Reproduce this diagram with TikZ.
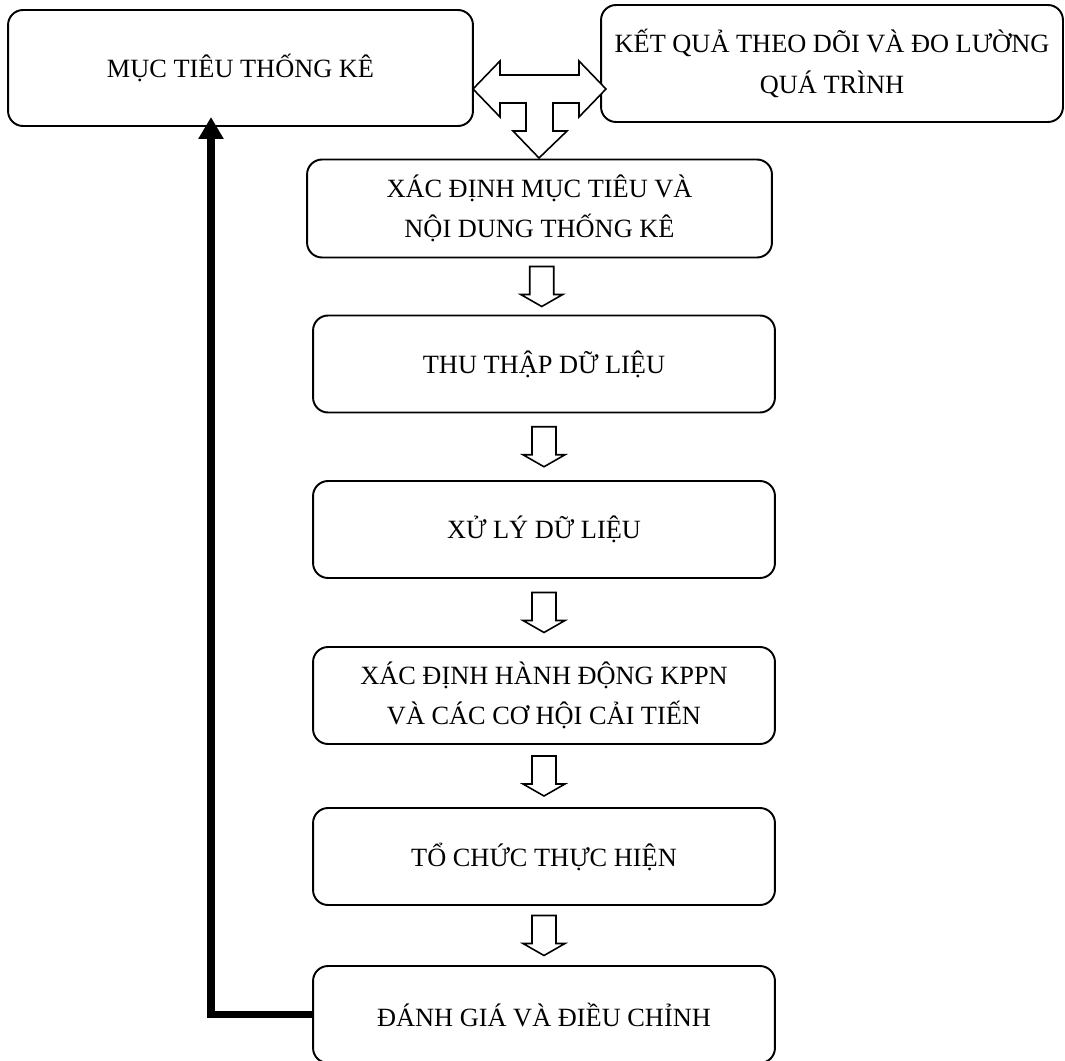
\documentclass[tikz,border=0pt]{standalone}
\usepackage{fontspec}
\setmainfont{Liberation Serif}
\usetikzlibrary{calc}
\usetikzlibrary{arrows.meta}
\tikzset{
    stepbox/.style = {rectangle, rounded corners=0.3cm, line width=1.1pt, draw=black, align=center, fill=white, font=\fontsize{15}{23}\selectfont},
    widebox/.style = {stepbox, minimum width=9.3cm},
    flowbox/.style = {stepbox, minimum width=9.24cm, minimum height=1.94cm},
    blockarrow/.style = {line width=0.9pt, draw=black, fill=white, line join=miter},
    backarrow/.style = {-{Triangle[width=0.48cm,length=0.44cm]}, line width=4.5pt, line join=miter, black}
}

\begin{document}
\begin{tikzpicture}[x=0.02cm,y=-0.02cm]
\useasboundingbox (0,0) rectangle (1065,1061);
%
\node[widebox, minimum height=2.32cm] at (240.5,68) (goal) {MỤC TIÊU THỐNG KÊ};
\node[stepbox, minimum width=9.24cm, minimum height=2.34cm] at (832,63.5) (result) {KẾT QUẢ THEO DÕI VÀ ĐO LƯỜNG\\QUÁ TRÌNH};
\node[widebox, minimum height=1.96cm] at (539.5,208.5) (define) {XÁC ĐỊNH MỤC TIÊU VÀ\\NỘI DUNG THỐNG KÊ};
\node[flowbox] at (544,364) (collect) {THU THẬP DỮ LIỆU};
\node[flowbox] at (544,529.5) (process) {XỬ LÝ DỮ LIỆU};
\node[flowbox] at (544,695.5) (action) {XÁC ĐỊNH HÀNH ĐỘNG KPPN\\VÀ CÁC CƠ HỘI CẢI TIẾN};
\node[flowbox] at (544,856.5) (organize) {TỔ CHỨC THỰC HIỆN};
\node[flowbox] at (544,1014.5) (review) {ĐÁNH GIÁ VÀ ĐIỀU CHỈNH};
%
\coordinate (tee) at (539.5,89);
\draw[blockarrow] (tee) ++(-66.5,0) -- ++(27,-28) -- ++(0,14) -- ++(79,0) -- ++(0,-14)
    -- ++(27,28) -- ++(-27,28) -- ++(0,-14) -- ++(-26,0) -- ++(0,28) -- ++(14,0)
    -- ++(-28,27) -- ++(-26,-27) -- ++(13,0) -- ++(0,-28) -- ++(-26,0) -- ++(0,14) -- cycle;
%
\foreach \a/\b in {define/collect, collect/process, process/action, action/organize, organize/review}
    \draw[blockarrow] ($(\a.south)!0.5!(\b.north)$) ++(-12,-20) -- ++(24,0) -- ++(0,28)
        -- ++(9,0) -- ++(-21,12) -- ++(-21,-12) -- ++(9,0) -- cycle;
%
\coordinate (fbtop) at (211,117);
\draw[backarrow] (review.west) -- (review.west -| fbtop) -- (fbtop);

\end{tikzpicture}
\end{document}
